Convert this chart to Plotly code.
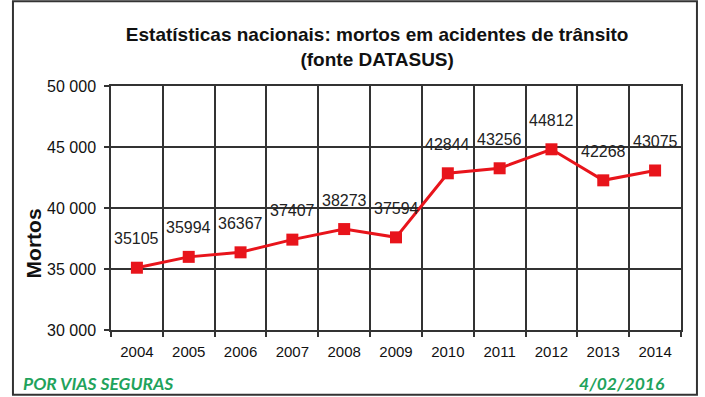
import plotly.graph_objects as go

# Road traffic deaths in Brazil, source DATASUS
years = ["2004", "2005", "2006", "2007", "2008", "2009", "2010", "2011", "2012", "2013", "2014"]
deaths = [35105, 35994, 36367, 37407, 38273, 37594, 42844, 43256, 44812, 42268, 43075]
y_ticks = [30000, 35000, 40000, 45000, 50000]

FONT = "Liberation Sans, Arial, sans-serif"
RED = "#e8141b"
GREEN = "#1fa35c"
GRID = "#333333"

xpos = list(range(len(years)))

fig = go.Figure()
fig.add_trace(go.Scatter(
    x=xpos, y=deaths,
    mode="lines+markers",
    line=dict(color=RED, width=3),
    marker=dict(symbol="square", size=12, color=RED),
    text=years, hovertemplate="%{text}: %{y}<extra></extra>",
    showlegend=False,
))

# value labels above each point
for xi, v in zip(xpos, deaths):
    fig.add_annotation(
        x=xi, y=v, text=str(v), showarrow=False, yshift=29,
        font=dict(family=FONT, size=16, color="#222222"),
    )

fig.update_layout(
    width=705, height=397,
    margin=dict(l=111, r=24, t=86, b=67),
    paper_bgcolor="white", plot_bgcolor="white",
    separators=". ",
    title=dict(
        text="<b>Estatísticas nacionais: mortos em acidentes de trânsito<br>(fonte DATASUS)</b>",
        x=0.535, xanchor="center", y=0.897, yanchor="top",
        font=dict(family=FONT, size=19, color="#111111"),
    ),
    xaxis=dict(
        range=[-0.5, len(years) - 0.5],
        tickvals=xpos, ticktext=years,
        ticks="", showgrid=False,
        minor=dict(tick0=0.5, dtick=1, ticks="outside", ticklen=5,
                   tickcolor=GRID, tickwidth=1.5,
                   showgrid=True, gridcolor=GRID, gridwidth=1.5),
        showline=True, linecolor=GRID, linewidth=1.5, mirror=True,
        zeroline=False,
        tickfont=dict(family=FONT, size=15, color="#111111"),
        ticklabelstandoff=7,
    ),
    yaxis=dict(
        range=[30000, 50000], tickvals=y_ticks, tickformat=",d",
        ticks="outside", ticklen=5, tickcolor=GRID, tickwidth=1.5,
        showgrid=True, gridcolor=GRID, gridwidth=1.5,
        showline=True, linecolor=GRID, linewidth=1.5, mirror=True,
        zeroline=False,
        tickfont=dict(family=FONT, size=16, color="#111111"),
        ticklabelstandoff=5,
    ),
)

# y axis title, set lower than the axis middle
fig.add_annotation(xref="paper", yref="paper",
                   x=(33 - 111) / 570, y=(329.5 - 243) / 243.8,
                   text="<b>Mortos</b>", textangle=-90, showarrow=False,
                   xanchor="center", yanchor="middle",
                   font=dict(family=FONT, size=21, color="#111111"))

# outer frame
fig.add_shape(type="rect", xref="paper", yref="paper",
              x0=-0.172, x1=1.028, y0=-0.265, y1=1.347,
              line=dict(color="#333333", width=2), fillcolor="rgba(0,0,0,0)")

# footer texts
fig.add_annotation(xref="paper", yref="paper", x=-0.158, y=-0.218, xanchor="left", yanchor="middle",
                   text="<b><i>POR VIAS SEGURAS</i></b>", showarrow=False,
                   font=dict(family="Lato, sans-serif", size=17.5, color=GREEN))
fig.add_annotation(xref="paper", yref="paper", x=0.975, y=-0.218, xanchor="right", yanchor="middle",
                   text="<b><i>4/02/2016</i></b>", showarrow=False,
                   font=dict(family="Lato, sans-serif", size=17.5, color=GREEN))

fig.write_html("out.html")
